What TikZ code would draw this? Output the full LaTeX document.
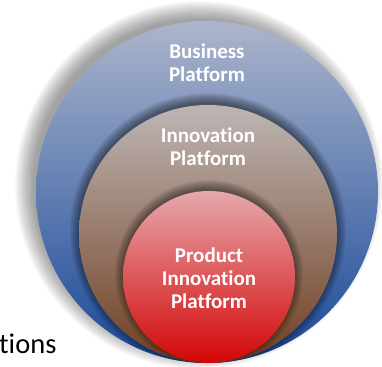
\documentclass[tikz,border=0pt]{standalone}
\usepackage{fontspec}
\setmainfont[Ligatures=NoCommon]{Carlito}
\definecolor{outerTop}{RGB}{172,181,204}
\definecolor{outerBot}{RGB}{24,72,152}
\definecolor{midTop}{RGB}{190,182,180}
\definecolor{midBot}{RGB}{112,62,32}
\definecolor{inTop}{RGB}{230,168,172}
\definecolor{inBot}{RGB}{212,6,6}
\begin{document}
\begin{tikzpicture}[x=1pt,y=-1pt,
  disc/.style={circle,inner sep=0pt,outer sep=0pt,draw=none},
  lbl/.style={text=white,font=\bfseries\fontsize{21}{23}\selectfont,align=center,inner sep=0pt}]
\useasboundingbox (0,0) rectangle (382,366);
% soft grey shadow of the outer disc
\foreach \r in {166,167,...,184}{\fill[black,opacity=0.022] (199,185) circle[radius=\r];}
% outer disc
\node[disc,minimum size=342pt,top color=outerTop,bottom color=outerBot] (outer) at (207,192) {};
% shadow of the middle disc
\begin{scope}
\clip (207,192) circle[radius=171];
\foreach \r in {128,129,...,138}{\fill[black,opacity=0.05] (208,231) circle[radius=\r];}
\end{scope}
\node[disc,minimum size=258pt,top color=midTop,bottom color=midBot] (middle) at (208,234) {};
% shadow of the inner disc
\begin{scope}
\clip (208,234) circle[radius=129];
\foreach \r in {85,86,...,94}{\fill[black,opacity=0.05] (209,274) circle[radius=\r];}
\end{scope}
\node[disc,minimum size=172pt,top color=inTop,bottom color=inBot] (inner) at (209,277) {};
% labels
\node[lbl] (lb) at (207,63) {Business\\Platform};
\node[lbl] (li) at (208,147) {Innovation\\Platform};
\node[lbl] (lp) at (209,278) {Product\\Innovation\\Platform};
\node[anchor=base west,inner sep=0pt,font=\fontsize{28.5}{30}\selectfont] (lt) at (-1,353) {tions};
\end{tikzpicture}
\end{document}
